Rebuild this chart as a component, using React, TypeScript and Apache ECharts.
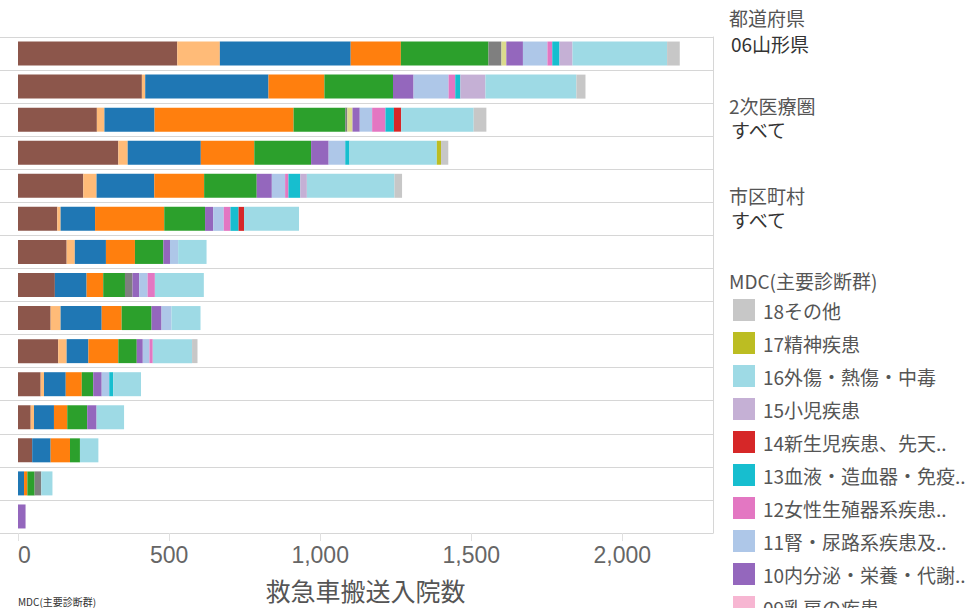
import React, { useEffect, useRef } from "react";
import * as echarts from "echarts";

const hospitals = [
  "病院01", "病院02", "病院03", "病院04", "病院05", "病院06", "病院07", "病院08",
  "病院09", "病院10", "病院11", "病院12", "病院13", "病院14", "病院15",
];

const mdcNames = [
  "01神経系疾患",
  "03耳鼻咽喉科系疾患",
  "04呼吸器系疾患",
  "05循環器系疾患",
  "06消化器系疾患、肝..",
  "07筋骨格系疾患",
  "08皮膚・皮下組織の..",
  "09乳房の疾患",
  "10内分泌・栄養・代謝..",
  "11腎・尿路系疾患及..",
  "12女性生殖器系疾患..",
  "13血液・造血器・免疫..",
  "14新生児疾患、先天..",
  "15小児疾患",
  "16外傷・熱傷・中毒",
  "17精神疾患",
  "18その他",
];

const mdcColors = [
  "#8c564b", "#ffbb78", "#1f77b4", "#ff7f0e", "#2ca02c", "#7f7f7f", "#dbdb8d",
  "#f7b6d2", "#9467bd", "#aec7e8", "#e377c2", "#17becf", "#d62728", "#c5b0d5",
  "#9edae5", "#bcbd22", "#c7c7c7",
];

const mdc01 = [527, 410, 261, 332, 216, 130, 161, 122, 108, 133, 75, 42, 47, 0, 0];
const mdc03 = [141, 11, 25, 31, 44, 11, 27, 0, 33, 28, 11, 11, 0, 0, 0];
const mdc04 = [433, 408, 166, 242, 191, 114, 103, 105, 136, 72, 72, 66, 61, 20, 0];
const mdc05 = [166, 185, 460, 177, 165, 229, 96, 55, 66, 99, 53, 44, 64, 11, 0];
const mdc06 = [290, 227, 171, 188, 174, 135, 94, 72, 99, 61, 38, 66, 33, 24, 0];
const mdc07 = [43, 0, 7, 0, 0, 0, 0, 25, 0, 0, 0, 0, 0, 22, 0];
const mdc08 = [16, 0, 17, 0, 0, 0, 0, 0, 0, 0, 0, 0, 0, 0, 0];
const mdc09 = [0, 0, 0, 0, 0, 0, 0, 0, 0, 0, 0, 0, 0, 0, 0];
const mdc10 = [55, 68, 24, 58, 50, 27, 22, 22, 33, 20, 28, 31, 0, 0, 25];
const mdc11 = [81, 116, 41, 55, 44, 35, 27, 28, 33, 22, 25, 0, 0, 0, 0];
const mdc12 = [16, 22, 44, 0, 11, 22, 0, 24, 0, 11, 0, 0, 0, 0, 0];
const mdc13 = [24, 17, 28, 14, 39, 27, 0, 0, 0, 0, 13, 0, 0, 0, 0];
const mdc14 = [0, 0, 24, 0, 0, 18, 0, 0, 0, 0, 0, 0, 0, 0, 0];
const mdc15 = [43, 83, 0, 0, 22, 0, 0, 0, 0, 0, 0, 0, 0, 0, 0];
const mdc16 = [313, 301, 240, 289, 290, 182, 94, 162, 96, 130, 92, 91, 61, 37, 0];
const mdc17 = [0, 0, 0, 14, 0, 0, 0, 0, 0, 0, 0, 0, 0, 0, 0];
const mdc18 = [42, 30, 42, 24, 25, 0, 0, 0, 0, 18, 0, 0, 0, 0, 0];

const mdcValues = [
  mdc01, mdc03, mdc04, mdc05, mdc06, mdc07, mdc08, mdc09, mdc10,
  mdc11, mdc12, mdc13, mdc14, mdc15, mdc16, mdc17, mdc18,
];

const xTicks = [0, 500, 1000, 1500, 2000];

const FONT = "'Liberation Sans', 'Noto Sans CJK JP', sans-serif";
const CJK = "'Noto Sans CJK JP', 'Liberation Sans', sans-serif";
const LINE = "#d6d6d6";

export default function App() {
  const ref = useRef<HTMLDivElement>(null);

  useEffect(() => {
    if (!ref.current) return;
    const chart = echarts.init(ref.current, null, { renderer: "svg" });

    const series = mdcNames.map((name, i) => ({
      name,
      type: "bar",
      stack: "total",
      data: mdcValues[i],
      barWidth: 24,
      itemStyle: { color: mdcColors[i] },
      emphasis: { disabled: true },
    }));

    const sideText = (text: string, x: number, y: number, color: string) => ({
      type: "text",
      x,
      y,
      style: {
        text,
        fill: color,
        fontSize: 19,
        fontFamily: CJK,
        verticalAlign: "middle",
        align: "left",
      },
    });

    chart.setOption({
      animation: false,
      backgroundColor: "#ffffff",
      grid: { left: 18, top: 37, width: 695, height: 496, containLabel: false },
      xAxis: {
        type: "value",
        min: 0,
        max: 2300,
        interval: 500,
        name: "救急車搬送入院数",
        nameLocation: "middle",
        nameGap: 44,
        nameTextStyle: { fontSize: 25, color: "#555", fontFamily: CJK },
        axisLine: { show: true, lineStyle: { color: LINE } },
        axisTick: {
          show: true,
          length: 8,
          customValues: xTicks,
          lineStyle: { color: "#e0e0e0" },
        },
        axisLabel: {
          customValues: xTicks,
          fontSize: 23,
          color: "#666",
          fontFamily: FONT,
          margin: 10,
          alignMinLabel: "left",
          formatter: (v: number) => v.toLocaleString("en-US"),
        },
        splitLine: { show: false },
      },
      yAxis: [
        {
          type: "category",
          data: hospitals,
          inverse: true,
          axisLine: { show: false },
          axisTick: { show: true, length: 18, alignWithLabel: false, lineStyle: { color: LINE } },
          axisLabel: { show: false },
          splitLine: { show: true, lineStyle: { color: LINE, width: 1 } },
        },
        {
          type: "category",
          data: hospitals,
          inverse: true,
          position: "right",
          axisLine: { show: true, lineStyle: { color: LINE } },
          axisTick: { show: false },
          axisLabel: { show: false },
          splitLine: { show: false },
        },
      ],
      legend: {
        orient: "vertical",
        left: 733,
        top: 299,
        height: 1200,
        padding: 0,
        itemWidth: 22,
        itemHeight: 22,
        itemGap: 11,
        icon: "rect",
        selectedMode: false,
        data: [...mdcNames].reverse(),
        textStyle: { fontSize: 19, color: "#555", fontFamily: CJK, padding: [0, 0, 0, 3] },
      },
      graphic: [
        sideText("都道府県", 729, 17, "#555"),
        sideText("06山形県", 731, 43, "#333"),
        sideText("2次医療圏", 729, 105, "#555"),
        sideText("すべて", 731, 129, "#333"),
        sideText("市区町村", 729, 195, "#555"),
        sideText("すべて", 731, 219, "#333"),
        sideText("MDC(主要診断群)", 729, 280, "#555"),
        {
          type: "text",
          x: 18,
          y: 601,
          style: {
            text: "MDC(主要診断群)",
            fill: "#333",
            fontSize: 10,
            fontFamily: CJK,
            verticalAlign: "middle",
            align: "left",
          },
        },
      ],
      series,
    });

    return () => chart.dispose();
  }, []);

  return (
    <div
      ref={ref}
      style={{ position: "absolute", left: 0, top: 0, width: 967, height: 608 }}
    />
  );
}
